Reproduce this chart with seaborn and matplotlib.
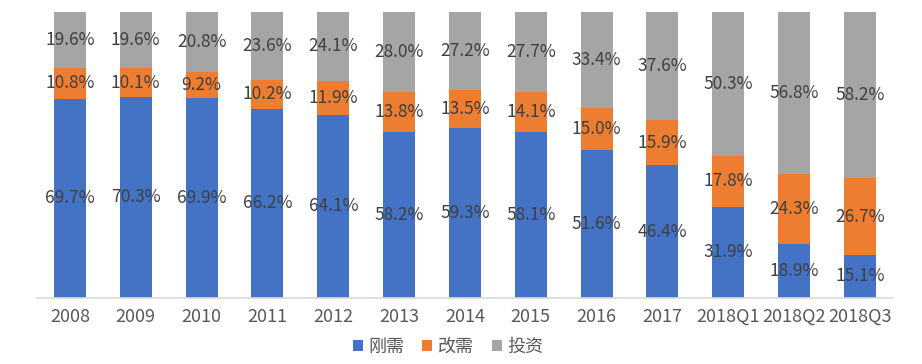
import matplotlib
matplotlib.use("Agg")
import matplotlib.pyplot as plt
import seaborn as sns
import pandas as pd
import numpy as np
from matplotlib.patches import Patch

categories = ["2008", "2009", "2010", "2011", "2012", "2013", "2014", "2015",
              "2016", "2017", "2018Q1", "2018Q2", "2018Q3"]
rigid = [69.7, 70.3, 69.9, 66.2, 64.1, 58.2, 59.3, 58.1, 51.6, 46.4, 31.9, 18.9, 15.1]
improve = [10.8, 10.1, 9.2, 10.2, 11.9, 13.8, 13.5, 14.1, 15.0, 15.9, 17.8, 24.3, 26.7]
invest = [19.6, 19.6, 20.8, 23.6, 24.1, 28.0, 27.2, 27.7, 33.4, 37.6, 50.3, 56.8, 58.2]
series_names = ["刚需", "改需", "投资"]
colors = ["#4472C4", "#ED7D31", "#A5A5A5"]

sns.set_theme(style="white")
plt.rcParams['font.family'] = ['Noto Sans CJK SC', 'DejaVu Sans']

df = pd.DataFrame({"cat": categories, "rigid": rigid, "improve": improve, "invest": invest})
df["c1"] = df["rigid"]
df["c2"] = df["rigid"] + df["improve"]
df["c3"] = df["c2"] + df["invest"]

fig = plt.figure(figsize=(9.22, 3.64), dpi=100)
ax = fig.add_axes([0.0401, 0.1813, 0.9284, 0.7857])

for col, color in zip(["c3", "c2", "c1"], colors[::-1]):
    sns.barplot(data=df, x="cat", y=col, color=color, width=0.486, ax=ax,
                saturation=1, linewidth=0, errorbar=None)

ax.set_ylim(0, 100)
ax.set_xlim(-0.5, len(categories) - 0.5)
ax.set_xlabel("")
ax.set_ylabel("")
ax.set_yticks([])
for s in ["top", "right", "left"]:
    ax.spines[s].set_visible(False)
ax.spines["bottom"].set_color("#D9D9D9")
ax.spines["bottom"].set_linewidth(1.2)
ax.tick_params(axis="x", length=0, pad=7, labelsize=13, labelcolor="#595959")
for t in ax.get_xticklabels():
    t.set_fontweight("light")

lab_col = "#404040"
fs = 12.5
for i in range(len(categories)):
    b = rigid[i]
    o = improve[i]
    g = invest[i]
    for y, v in [(b / 2, b), (b + o / 2, o), (b + o + g / 2, g)]:
        ax.text(i, y, f"{v:.1f}%", ha="center", va="center", fontsize=fs,
                color=lab_col, fontweight="light")

handles = [Patch(facecolor=c, edgecolor="none") for c in colors]
leg = fig.legend(handles, series_names, loc="center", bbox_to_anchor=(448 / 922, 1 - 347 / 364),
                 ncol=3, frameon=False, fontsize=13, handlelength=0.55, handleheight=0.55,
                 handletextpad=0.3, columnspacing=1.0)
for t in leg.get_texts():
    t.set_color("#595959")
    t.set_fontweight("light")

fig.savefig("out.png", dpi=100)
